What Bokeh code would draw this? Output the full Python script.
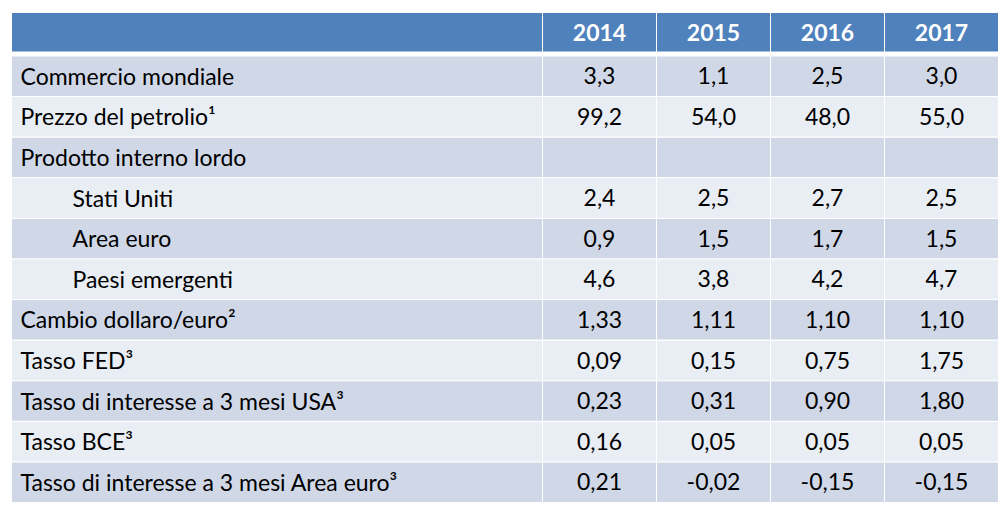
from bokeh.plotting import figure
from bokeh.models import ColumnDataSource, Range1d
from bokeh.core.properties import value
from bokeh.embed import file_html
from bokeh.resources import INLINE

# ---- data ----
years = ["2014", "2015", "2016", "2017"]
labels = [
    "Commercio mondiale",
    "Prezzo del petrolio\u00b9",
    "Prodotto interno lordo",
    "Stati Uniti",
    "Area euro",
    "Paesi emergenti",
    "Cambio dollaro/euro\u00b2",
    "Tasso FED\u00b3",
    "Tasso di interesse a 3 mesi USA\u00b3",
    "Tasso BCE\u00b3",
    "Tasso di interesse a 3 mesi Area euro\u00b3",
]
indented = [False, False, False, True, True, True, False, False, False, False, False]
decimals = [1, 1, 1, 1, 1, 1, 2, 2, 2, 2, 2]
v2014 = [3.3, 99.2, None, 2.4, 0.9, 4.6, 1.33, 0.09, 0.23, 0.16, 0.21]
v2015 = [1.1, 54.0, None, 2.5, 1.5, 3.8, 1.11, 0.15, 0.31, 0.05, -0.02]
v2016 = [2.5, 48.0, None, 2.7, 1.7, 4.2, 1.10, 0.75, 0.90, 0.05, -0.15]
v2017 = [3.0, 55.0, None, 2.5, 1.5, 4.7, 1.10, 1.75, 1.80, 0.05, -0.15]
series = [v2014, v2015, v2016, v2017]

# ---- layout / style ----
FONT = "Lato"
FS = "23px"
HEADER_COLOR = "#4F81BD"
ODD_COLOR = "#D0D8E8"
EVEN_COLOR = "#E9EDF4"
LEFT = 11.0
LABEL_W = 531.0
COL_W = 114.0
HEAD_TOP = 12.0
HEAD_H = 39.5
GAP = 4.0
ROW_H = 40.6
PAD = 9.0
INDENT = 52.0
TEXT_DY = -0.5
W, H = 999, 510


def fmt(v, d):
    if v is None:
        return ""
    return f"{v:.{d}f}".replace(".", ",")


p = figure(width=W, height=H, output_backend="svg", toolbar_location=None,
           x_range=Range1d(0, W), y_range=Range1d(H, 0),
           min_border=0, outline_line_color=None,
           x_axis_location=None, y_axis_location=None,
           background_fill_color="white", border_fill_color="white")
p.xgrid.visible = False
p.ygrid.visible = False

# column edges
col_left = [LEFT] + [LEFT + LABEL_W + i * COL_W for i in range(len(years))]
col_right = [LEFT + LABEL_W] + [LEFT + LABEL_W + (i + 1) * COL_W for i in range(len(years))]

# header cells
p.quad(left=col_left, right=col_right,
       top=[HEAD_TOP] * len(col_left), bottom=[HEAD_TOP + HEAD_H] * len(col_left),
       fill_color=HEADER_COLOR, line_color="white", line_width=1)
p.text(x=[(col_left[i + 1] + col_right[i + 1]) / 2 for i in range(len(years))],
       y=[HEAD_TOP + HEAD_H / 2 + 0.5] * len(years), text=years,
       text_font=value(FONT), text_font_size=FS, text_font_style="bold",
       text_color="white", text_align="center", text_baseline="middle")

# body cells
body_top = HEAD_TOP + HEAD_H + GAP
ql, qr, qt, qb, qc = [], [], [], [], []
for r in range(len(labels)):
    t = body_top + r * ROW_H
    for c in range(len(col_left)):
        ql.append(col_left[c]); qr.append(col_right[c])
        qt.append(t); qb.append(t + ROW_H)
        qc.append(ODD_COLOR if r % 2 == 0 else EVEN_COLOR)
p.quad(left=ql, right=qr, top=qt, bottom=qb, fill_color=qc,
       line_color="white", line_width=1)

# labels
src_lab = ColumnDataSource(dict(
    x=[LEFT + PAD + (INDENT if ind else 0) for ind in indented],
    y=[body_top + (r + 0.5) * ROW_H + TEXT_DY for r in range(len(labels))],
    text=labels))
p.text(x="x", y="y", text="text", source=src_lab,
       text_font=value(FONT), text_font_size=FS, text_color="black",
       text_align="left", text_baseline="middle")

# values
vx, vy, vt = [], [], []
for c, vals in enumerate(series):
    cx = (col_left[c + 1] + col_right[c + 1]) / 2
    for r, v in enumerate(vals):
        vx.append(cx)
        vy.append(body_top + (r + 0.5) * ROW_H + TEXT_DY)
        vt.append(fmt(v, decimals[r]))
p.text(x=vx, y=vy, text=vt, text_font=value(FONT), text_font_size=FS,
       text_color="black", text_align="center", text_baseline="middle")

open("out.html", "w").write(file_html(p, INLINE))
